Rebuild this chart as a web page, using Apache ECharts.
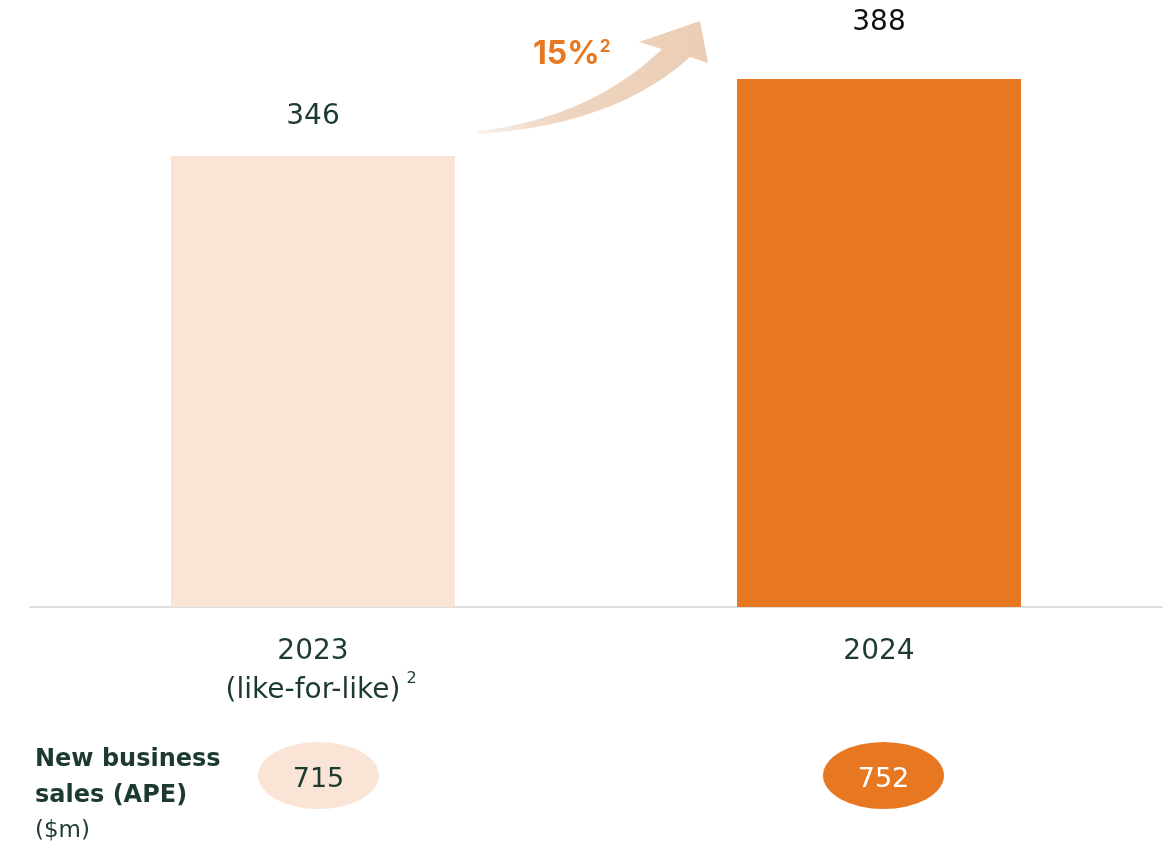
<!DOCTYPE html>
<html>
<head>
<meta charset="utf-8">
<script src="https://cdn.jsdelivr.net/npm/echarts@6/dist/echarts.min.js"></script>
<style>
  html, body { margin: 0; padding: 0; background: #ffffff; }
  #chart { width: 1166px; height: 844px; }
</style>
</head>
<body>
<div id="chart"></div>
<script>
// Years on the category axis, with a note line and footnote mark under each
const categories = ['2023', '2024'];
const categoryNotes = ['(like-for-like)', ''];
const categoryFootnotes = ['2', ''];

// Bar values ($m)
const barValues = [346, 388];

// New business sales (APE), $m
const apeValues = [715, 752];

// Growth callout
const growthText = '15%';
const growthFootnote = '2';

const FONT = "'DejaVu Sans', sans-serif";
const FONT_CALLOUT = "Inter, 'Noto Sans', sans-serif";
const DARK = '#1d3a2f';
const LIGHT = '#fae4d5';
const ORANGE = '#e87722';

const barColors = [LIGHT, ORANGE];
const barLabelColors = [DARK, '#111111'];
const barLabelGaps = [25, 42];
const apeFill = [LIGHT, ORANGE];
const apeText = [DARK, '#ffffff'];

// Quadratic curve sampled into points, for the outline of the growth arrow
function quad(p0, c, p1, steps) {
  const pts = [];
  for (let i = 0; i <= steps; i++) {
    const t = i / steps, u = 1 - t;
    pts.push([
      u * u * p0[0] + 2 * u * t * c[0] + t * t * p1[0],
      u * u * p0[1] + 2 * u * t * c[1] + t * t * p1[1]
    ]);
  }
  return pts;
}

// Arrow outline: upper shaft edge, head, lower shaft edge back to the tail
const arrowPoints = []
  .concat(quad([478, 131], [590, 118], [662, 49], 24))
  .concat([[639, 42], [700, 21], [708, 63], [690, 57]])
  .concat(quad([690, 57], [615, 125], [478, 134], 24));

const chart = echarts.init(document.getElementById('chart'), null, { renderer: 'canvas' });

const option = {
  backgroundColor: '#ffffff',
  animation: false,
  grid: [
    { left: 30, right: 4, top: 57, bottom: 237 },
    { left: 36, right: 0, top: 742, height: 67 }
  ],
  xAxis: [
    {
      type: 'category',
      gridIndex: 0,
      data: categories,
      axisTick: { show: false },
      axisLine: { show: true, lineStyle: { color: '#dedede', width: 2 } },
      axisLabel: {
        margin: 25,
        interval: 0,
        formatter: function (value, idx) {
          let s = '{main|' + value + '}';
          if (categoryNotes[idx]) {
            s += '\n{pad|' + categoryFootnotes[idx] + '}{main|' + categoryNotes[idx] + '}{sup|' + categoryFootnotes[idx] + '}';
          }
          return s;
        },
        rich: {
          main: { fontFamily: FONT, fontSize: 28, color: DARK, lineHeight: 39 },
          sup: { fontFamily: FONT, fontSize: 16, color: DARK, lineHeight: 8, verticalAlign: 'top', padding: [0, 0, 0, 6] },
          pad: { fontFamily: FONT, fontSize: 16, color: 'transparent', lineHeight: 8, verticalAlign: 'top', padding: [0, 6, 0, 0] }
        }
      }
    },
    {
      type: 'category',
      gridIndex: 1,
      data: categories,
      show: false
    }
  ],
  yAxis: [
    { type: 'value', gridIndex: 0, min: 100, max: 400, show: false, splitLine: { show: false } },
    { type: 'value', gridIndex: 1, min: -1, max: 1, show: false, splitLine: { show: false } }
  ],
  series: [
    {
      type: 'bar',
      xAxisIndex: 0,
      yAxisIndex: 0,
      barWidth: 284,
      data: barValues.map(function (v, i) {
        return {
          value: v,
          itemStyle: { color: barColors[i] },
          label: { color: barLabelColors[i], distance: barLabelGaps[i] }
        };
      }),
      label: {
        show: true,
        position: 'top',
        fontFamily: FONT,
        fontSize: 28
      }
    },
    {
      type: 'scatter',
      xAxisIndex: 1,
      yAxisIndex: 1,
      symbol: 'circle',
      symbolSize: [121, 67],
      data: apeValues.map(function (v, i) {
        return {
          value: [i, 0, v],
          itemStyle: { color: apeFill[i], opacity: 1 },
          label: { color: apeText[i] }
        };
      }),
      label: {
        show: true,
        position: 'inside',
        offset: [0, 4],
        fontFamily: FONT,
        fontSize: 27,
        formatter: function (p) { return String(p.value[2]); }
      }
    }
  ],
  graphic: [
    {
      // curved growth arrow between the two bars
      type: 'polygon',
      z: 5,
      shape: { points: arrowPoints },
      style: {
        fill: {
          type: 'linear',
          x: 0, y: 0, x2: 1, y2: 0,
          colorStops: [
            { offset: 0, color: 'rgba(236,206,183,0.25)' },
            { offset: 0.35, color: '#eed5c1' },
            { offset: 1, color: '#eccdb4' }
          ]
        }
      }
    },
    {
      type: 'text',
      z: 6,
      x: 533,
      y: 54,
      style: {
        text: '{a|' + growthText + '}{b|' + growthFootnote + '}',
        verticalAlign: 'middle',
        rich: {
          a: { fontFamily: FONT_CALLOUT, fontSize: 32, fontWeight: 'bold', fill: ORANGE, lineHeight: 32 },
          b: { fontFamily: FONT_CALLOUT, fontSize: 17, fontWeight: 'bold', fill: ORANGE, lineHeight: 27, verticalAlign: 'top' }
        }
      }
    },
    {
      type: 'text',
      x: 35,
      y: 742,
      style: {
        text: '{b|New business}\n{b|sales (APE)}\n{r|($m)}',
        rich: {
          b: { fontFamily: FONT, fontSize: 24, fontWeight: 'bold', fill: DARK, lineHeight: 36 },
          r: { fontFamily: FONT, fontSize: 23, fill: DARK, lineHeight: 34 }
        }
      }
    }
  ]
};

chart.setOption(option);
</script>
</body>
</html>
